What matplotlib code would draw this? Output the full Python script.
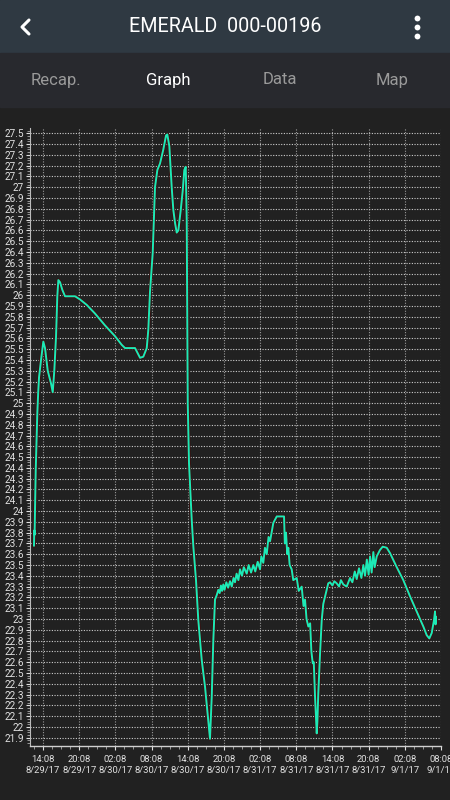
import numpy as np
import matplotlib
matplotlib.use("Agg")
import matplotlib.pyplot as plt
from matplotlib.lines import Line2D
from matplotlib.patches import Rectangle
from datetime import datetime, timedelta

plt.rcParams['font.family'] = ['Roboto', 'DejaVu Sans']

title = "EMERALD  000-00196"
tabs = ["Recap.", "Graph", "Data", "Map"]
active_tab = "Graph"

# hours after 8/29/17 14:08, temperature
hours = [-1.5, -1.45, -1.4, -1.3, -1.21, -1.1, -0.95, -0.8, -0.66, -0.33,
         0.05, 0.33, 0.78, 1.33, 1.61, 1.87, 2.16, 2.37, 2.54, 2.82,
         3.2, 3.65, 4.48, 5.31, 6.14, 7.25, 8.62, 10.28, 11.94, 13.05,
         13.6, 15.26, 16.09, 16.63, 17.2, 17.46, 17.74, 18.19, 18.57, 18.96,
         19.4, 19.95, 20.4, 20.61, 20.95, 21.34, 21.61, 21.89, 22.17, 22.44,
         22.84, 23.17, 23.43, 23.67, 23.83, 24.0, 24.21, 24.66, 24.93, 25.37,
         25.75, 26.32, 26.87, 27.41, 27.69, 27.98, 28.24, 28.52, 28.8, 29.07,
         29.3, 29.5, 29.7, 29.9, 30.1, 30.4, 30.7, 31.01, 31.3, 31.6,
         31.84, 32.1, 32.4, 32.67, 33.0, 33.3, 33.78, 34.1, 34.5, 34.88,
         35.2, 35.6, 35.99, 36.2, 36.53, 36.8, 37.1, 37.4, 37.65, 38.19,
         38.76, 39.59, 39.97, 40.1, 40.3, 40.5, 40.68, 40.9, 41.24, 41.5,
         42.07, 42.4, 42.9, 43.2, 43.45, 43.7, 44.0, 44.3, 44.5, 44.73,
         44.9, 45.11, 45.25, 45.39, 45.5, 45.65, 45.94, 46.22, 46.48, 47.05,
         47.3, 47.6, 48.0, 48.3, 48.71, 49.1, 49.4, 49.8, 50.36, 50.91,
         51.3, 51.7, 52.02, 52.4, 52.8, 53.12, 53.4, 53.7, 54.0, 54.23,
         54.5, 54.78, 55.0, 55.34, 55.89, 56.33, 57.0, 57.55, 58.66, 59.75,
         60.86, 61.97, 63.07, 63.63, 64.06, 64.46, 64.84, 65.01, 65.1, 65.17]
temps = [23.68, 23.82, 23.78, 24.1, 24.38, 24.6, 24.9, 25.1, 25.24, 25.4,
         25.57, 25.51, 25.3, 25.18, 25.1, 25.3, 25.62, 25.99, 26.14, 26.12,
         26.05, 25.99, 25.99, 25.99, 25.96, 25.91, 25.83, 25.72, 25.62, 25.54,
         25.51, 25.51, 25.42, 25.43, 25.51, 25.68, 26.03, 26.39, 27.0, 27.16,
         27.22, 27.35, 27.48, 27.49, 27.38, 27.0, 26.79, 26.67, 26.58, 26.6,
         26.79, 26.97, 27.16, 27.19, 26.7, 25.0, 24.44, 23.92, 23.67, 23.36,
         22.99, 22.62, 22.37, 22.06, 21.89, 22.28, 22.8, 23.18, 23.22, 23.27,
         23.24, 23.31, 23.26, 23.32, 23.27, 23.34, 23.29, 23.35, 23.3, 23.38,
         23.34, 23.42, 23.36, 23.46, 23.4, 23.48, 23.42, 23.5, 23.43, 23.5,
         23.44, 23.53, 23.46, 23.58, 23.52, 23.66, 23.6, 23.76, 23.72, 23.89,
         23.95, 23.95, 23.95, 23.7, 23.8, 23.6, 23.66, 23.5, 23.46, 23.36,
         23.38, 23.26, 23.3, 23.12, 23.18, 23.0, 22.93, 22.96, 22.7, 22.59,
         22.6, 22.28, 22.1, 21.94, 22.05, 22.31, 22.68, 22.99, 23.14, 23.27,
         23.33, 23.34, 23.31, 23.35, 23.33, 23.3, 23.36, 23.32, 23.3, 23.38,
         23.34, 23.44, 23.37, 23.47, 23.38, 23.5, 23.4, 23.55, 23.41, 23.58,
         23.43, 23.62, 23.48, 23.58, 23.64, 23.67, 23.66, 23.61, 23.48, 23.36,
         23.21, 23.07, 22.93, 22.85, 22.82, 22.87, 22.99, 23.07, 22.95, 23.02]

start = datetime(2017, 8, 29, 14, 8)
x_major_hours = [0, 6, 12, 18, 24, 30, 36, 42, 48, 54, 60, 66]
x_limits_hours = (-2.16, 66.0)
y_limits = (21.826, 27.549)
y_ticks = np.round(np.arange(21.9, 27.51, 0.1), 1)

bg = "#212121"
line_col = "#1de9b6"

fig = plt.figure(figsize=(4.5, 8), dpi=100, facecolor=bg)

# app bar + tab bar
fig.add_artist(Rectangle((0, 1 - 52.5 / 800), 1, 52.5 / 800, transform=fig.transFigure,
                         color="#2f3942", zorder=0))
fig.add_artist(Rectangle((0, 1 - 107 / 800), 1, 54.5 / 800, transform=fig.transFigure,
                         color="#28292e", zorder=0))
fig.text(0.5, 1 - 27 / 800, title, color="white", fontsize=14.2, ha="center", va="center")
fig.add_artist(Line2D([29 / 450, 22 / 450, 29 / 450], [1 - 20 / 800, 1 - 27 / 800, 1 - 34 / 800],
                      transform=fig.transFigure, color="white", lw=2.2, solid_capstyle="round"))
fig.add_artist(Line2D([417 / 450] * 3, [1 - 18 / 800, 1 - 27 / 800, 1 - 36 / 800],
                      transform=fig.transFigure, ls="none", marker="o", ms=4.2,
                      color="white", mec="none"))
for i, t in enumerate(tabs):
    fig.text((56 + 112 * i) / 450, 1 - 80 / 800, t, fontsize=12, ha="center", va="center",
             color="white" if t == active_tab else "#9a9a9a")

ax = fig.add_axes([30 / 450, 1 - 745.7 / 800, 411 / 450, (745.7 - 128) / 800])
ax.set_facecolor(bg)

times = [start + timedelta(hours=h) for h in hours]
ax.plot(times, temps, color="#3a1010", lw=2.6, zorder=3)
ax.plot(times, temps, color=line_col, lw=1.4, zorder=4)

ax.set_xlim(start + timedelta(hours=x_limits_hours[0]), start + timedelta(hours=x_limits_hours[1]))
ax.set_ylim(*y_limits)

ax.set_yticks(y_ticks)
ax.set_yticklabels([f"{v:g}" for v in y_ticks])
ax.set_yticks(np.arange(21.85, 27.55, 0.025), minor=True)

xt = [start + timedelta(hours=h) for h in x_major_hours]
ax.set_xticks(xt)
ax.set_xticklabels([f"{d:%H:%M}\n{d.month}/{d.day}/{d:%y}" for d in xt])
ax.set_xticks([start + timedelta(hours=h) for h in np.arange(-1.5, 66.1, 1.5)], minor=True)

ax.tick_params(axis="both", which="major", colors="#e0e0e0", length=3, width=0.8)
ax.tick_params(axis="y", which="major", labelsize=7.2, pad=1.5)
ax.tick_params(axis="x", which="major", labelsize=6.8, pad=4)
ax.tick_params(axis="both", which="minor", colors="#aaaaaa", length=2, width=0.6)

ax.grid(axis="y", which="major", color="#d0d0d0", lw=0.8, ls=(0, (1, 1.4)))
ax.grid(axis="x", which="major", color="#9a9a9a", lw=0.8, ls=(0, (1, 1.4)))

for s in ("top", "right"):
    ax.spines[s].set_visible(False)
ax.spines["left"].set_color("#bbbbbb")
ax.spines["bottom"].set_color("#d0d0d0")
ax.spines["left"].set_linewidth(0.8)
ax.spines["bottom"].set_linewidth(1.0)

fig.savefig("out.png", dpi=100, facecolor=bg)
